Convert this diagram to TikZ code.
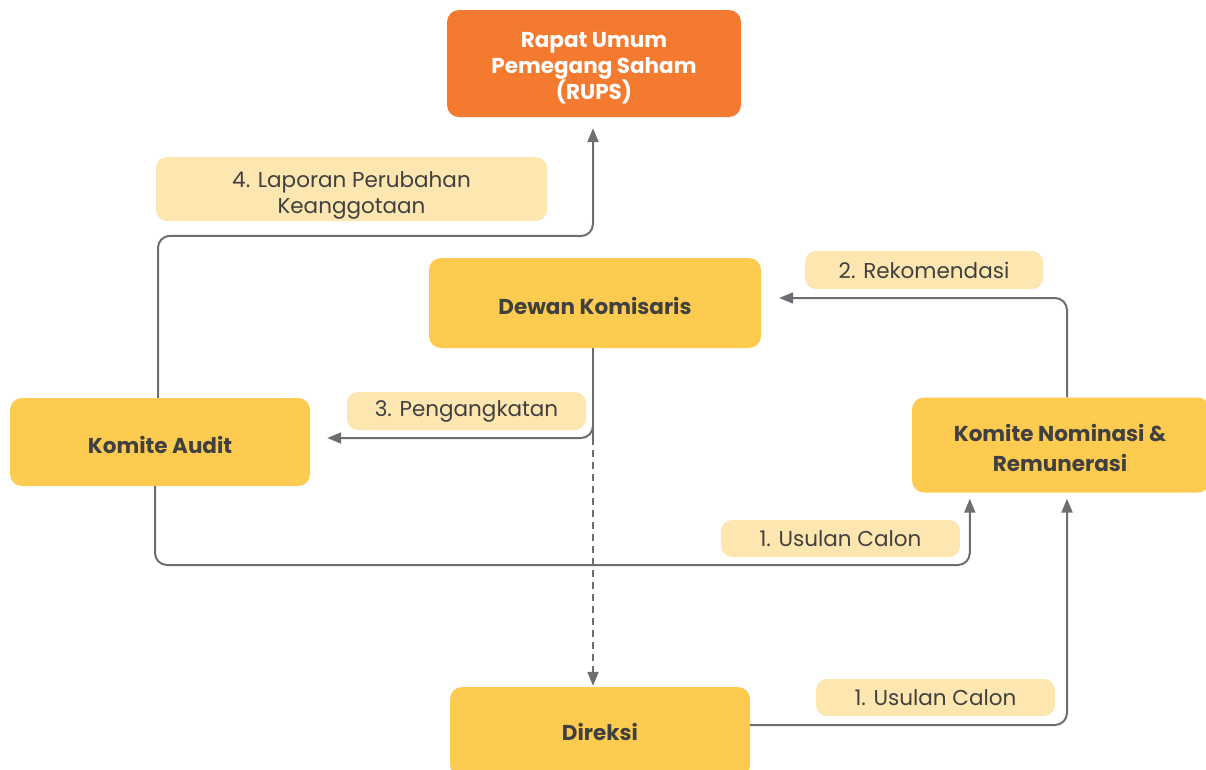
\documentclass[tikz,border=0pt]{standalone}
\usepackage{fontspec}
\setmainfont{Poppins}
\usetikzlibrary{arrows.meta,calc}
\definecolor{orangebox}{HTML}{F47A30}
\definecolor{yellowbox}{HTML}{FDCB50}
\definecolor{labelbg}{HTML}{FDE6B0}
\definecolor{inkgray}{HTML}{404040}
\definecolor{linegray}{HTML}{6D6E71}
\begin{document}
\begin{tikzpicture}[x=1pt,y=-1pt,
  unitbox/.style={rectangle,rounded corners=12pt,fill=yellowbox,draw=none,inner sep=0pt},
  topbox/.style={unitbox,fill=orangebox},
  boxtext/.style={inner sep=0pt,text=inkgray,font=\fontsize{21.5}{26}\selectfont\bfseries,align=center},
  tag/.style={rectangle,rounded corners=11pt,fill=labelbg,draw=none,inner sep=0pt},
  tagtext/.style={inner sep=0pt,text=inkgray,font=\fontsize{21.5}{26}\selectfont,align=center},
  conn/.style={draw=linegray,line width=2pt,rounded corners=12pt,
    -{Triangle[length=14pt,width=11pt]}},
  plain/.style={draw=linegray,line width=2pt,rounded corners=12pt}]
\useasboundingbox (0,0) rectangle (1206,769);

% organs of the company
\node[topbox,minimum width=294pt,minimum height=107pt,
  label={[boxtext,text=white,yshift=-5pt]center:{Rapat Umum\\Pemegang Saham\\(RUPS)}}]
  (rups) at (594,63.5) {};
\node[unitbox,minimum width=332pt,minimum height=90pt,
  label={[boxtext,yshift=-3pt]center:Dewan Komisaris}] (dewan) at (595,303) {};
\node[unitbox,minimum width=300pt,minimum height=88pt,
  label={[boxtext,yshift=-3pt]center:Komite Audit}] (audit) at (160,442) {};
\node[unitbox,minimum width=298pt,minimum height=95pt,
  label={[boxtext,font=\fontsize{21.5}{30}\selectfont\bfseries,xshift=-1pt,yshift=-3pt]center:{Komite Nominasi \&\\Remunerasi}}]
  (nom) at (1061,445) {};
\node[unitbox,minimum width=300pt,minimum height=90pt,
  label={[boxtext]center:Direksi}] (direksi) at (600,732) {};

% step labels
\node[tag,minimum width=391pt,minimum height=64pt,
  label={[tagtext,yshift=-6pt]center:{4. Laporan Perubahan\\Keanggotaan}}] (t4) at (351.5,189) {};
\node[tag,minimum width=238pt,minimum height=38pt,
  label={[tagtext]center:2. Rekomendasi}] (t2) at (924,270) {};
\node[tag,minimum width=239pt,minimum height=38pt,
  label={[tagtext]center:3. Pengangkatan}] (t3) at (466.5,411) {};
\node[tag,minimum width=239pt,minimum height=37pt,
  label={[tagtext]center:1. Usulan Calon}] (t1a) at (840.5,538.5) {};
\node[tag,minimum width=239pt,minimum height=37pt,
  label={[tagtext]center:1. Usulan Calon}] (t1b) at (935.5,697.5) {};

% turning points
\coordinate (split) at (593,438);
\coordinate (auditfoot) at ([xshift=-5pt]audit.south);

% 4: audit committee reports to the general meeting
\draw[conn,shorten >=11pt] ([xshift=-2pt]audit.north) -- ++(0,-162)
  -- (593,236) -- ([xshift=-1pt]rups.south);
% 2: recommendation to the board
\draw[conn,shorten >=18pt] ([xshift=6pt]nom.north) |- (dewan.east |- 0,298);
% 3: appointment of committee members
\draw[plain] ([xshift=-2pt]dewan.south) -- (split);
\draw[conn,shorten >=17pt] (split |- 0,426) -- (split) -- (audit.east |- split);
% board appoints the directors
\draw[conn,dashed,dash pattern=on 7pt off 5pt,rounded corners=0pt,shorten >=1pt]
  (split) -- (direksi.north -| split);
% 1: nominations from the audit committee
\draw[conn,shorten >=6pt] (auditfoot) -- (auditfoot |- 0,565)
  -| ([xshift=58pt]nom.south west);
% 1: nominations from the directors
\draw[conn,shorten >=6pt] (direksi.east |- 0,725) -| ([xshift=6pt]nom.south);
\end{tikzpicture}
\end{document}
